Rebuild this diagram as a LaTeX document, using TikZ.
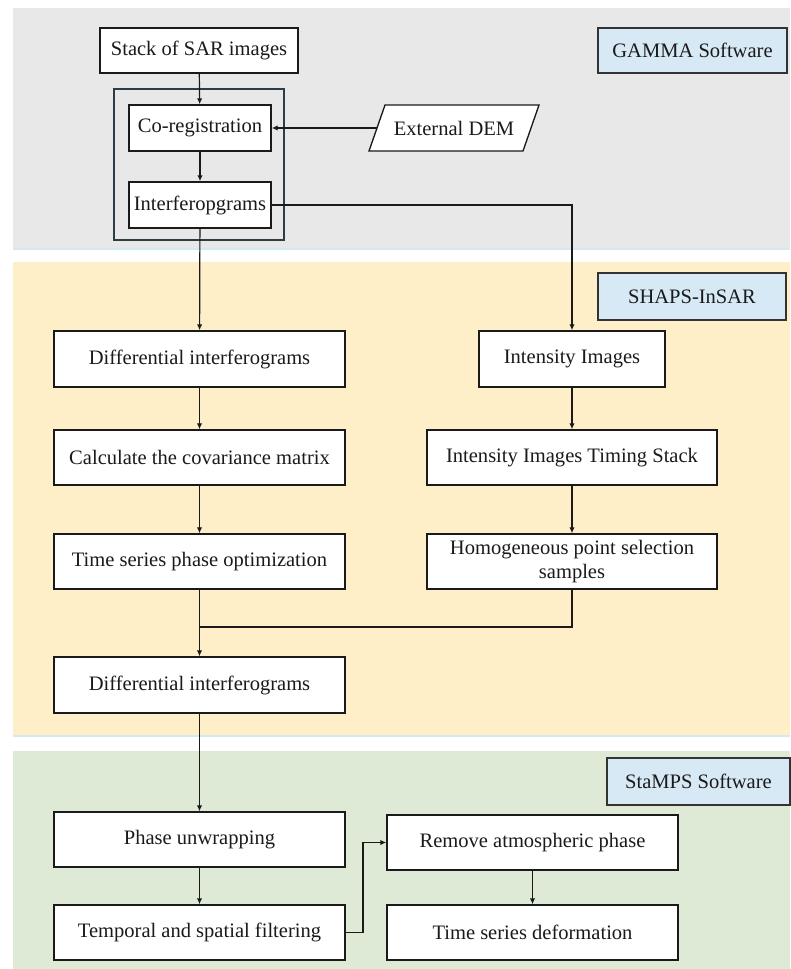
\documentclass[tikz,border=0pt]{standalone}
\usepackage{fontspec}
\setmainfont{Liberation Serif}
\usetikzlibrary{arrows.meta}
\definecolor{bggray}{HTML}{E8E8E8}
\definecolor{bgyellow}{HTML}{FFEFC8}
\definecolor{bggreen}{HTML}{DEEAD6}
\definecolor{lblblue}{HTML}{D7E9F5}
\definecolor{edgeblue}{HTML}{D3E9F4}
\definecolor{grpline}{HTML}{2E3C46}
\definecolor{ink}{HTML}{1A1A1A}
\tikzset{
  box/.style n args={2}{draw=ink, line width=1pt, fill=white, text=ink,
    minimum width=#1*0.75pt, minimum height=#2*0.75pt, inner sep=0pt,
    font=\fontsize{15.4}{18.5}\selectfont, align=center},
  lbl/.style n args={2}{box={#1}{#2}, fill=lblblue, draw=black!80},
  conn/.style={draw=ink, line width=0.9pt},
  arr/.style={conn, -{Latex[length=4.5pt,width=4pt]}},
}
\begin{document}
\begin{tikzpicture}[x=0.75pt,y=-0.75pt]
\useasboundingbox (0,0) rectangle (790,969);
% bands
\fill[bggray] (13,8) rectangle (790,249);
\draw[edgeblue, line width=1pt] (13,249) -- (790,249);
\fill[bgyellow] (13,262) rectangle (790,736);
\draw[edgeblue, line width=1pt] (13,736) -- (790,736);
\fill[bggreen] (13,751) rectangle (790,969);

% group box
\node[draw=grpline, line width=0.9pt, minimum width=170*0.75pt, minimum height=151*0.75pt, inner sep=0pt] (group) at (199,164.5) {};

% parallelogram outline for External DEM
\draw[draw=ink, line width=1pt, fill=white] (369,151) -- (523,151) -- (539,105) -- (385,105) -- cycle;

% nodes
\node[box={198}{45}] (stack) at (199,50.5) {Stack of SAR images};
\node[box={142}{46}] (coreg) at (200,128) {Co-registration};
\node[box={142}{46}] (interf) at (200,205) {Interferopgrams};
\node[minimum width=154*0.75pt, minimum height=46*0.75pt, inner sep=0pt, text=ink, font=\fontsize{15.4}{18.5}\selectfont] (dem) at (454,128) {External DEM};

\node[lbl={189}{45}] (gamma) at (692.5,50.5) {GAMMA Software};
\node[lbl={188}{47}] (shaps) at (692,296.5) {SHAPS-InSAR};
\node[lbl={183}{47}] (stamps) at (698.5,781.5) {StaMPS Software};

\node[box={291}{56}] (diff1) at (199.5,359) {Differential interferograms};
\node[box={186}{56}] (intens) at (572,359) {Intensity Images};
\node[box={291}{55}] (calc) at (199.5,457.5) {Calculate the covariance matrix};
\node[box={290}{55}] (timing) at (572,457.5) {Intensity Images Timing Stack};
\node[box={291}{55}] (tsopt) at (199.5,561.5) {Time series phase optimization};
\node[box={290}{55}] (homog) at (572,561.5) {Homogeneous point selection\\samples};
\node[box={291}{56}] (diff2) at (199.5,685) {Differential interferograms};
\node[box={291}{55}] (unwrap) at (199.5,839.5) {Phase unwrapping};
\node[box={291}{55}] (filter) at (199.5,932.5) {Temporal and spatial filtering};
\node[box={291}{55}] (remove) at (532.5,842.5) {Remove atmospheric phase};
\node[box={291}{55}] (tsdef) at (532.5,932.5) {Time series deformation};

\coordinate (merge) at (199.5,627);
\coordinate (jog) at (363,932.5);

% connectors
\draw[arr] (stack) -- (coreg);
\draw[arr] (dem.west) -- (coreg.east);
\draw[arr] (coreg) -- (interf);
\draw[arr] (interf.east) -| (intens.north);
\draw[arr] (interf) -- (diff1);
\draw[arr] (diff1) -- (calc);
\draw[arr] (calc) -- (tsopt);
\draw[arr] (intens) -- (timing);
\draw[arr] (timing) -- (homog);
\draw[conn] (homog.south) |- (merge);
\draw[arr] (tsopt) -- (diff2);
\draw[arr] (diff2) -- (unwrap);
\draw[arr] (unwrap) -- (filter);
\draw[arr] (filter.east) -- (jog) |- (remove.west);
\draw[arr] (remove) -- (tsdef);
\end{tikzpicture}
\end{document}
